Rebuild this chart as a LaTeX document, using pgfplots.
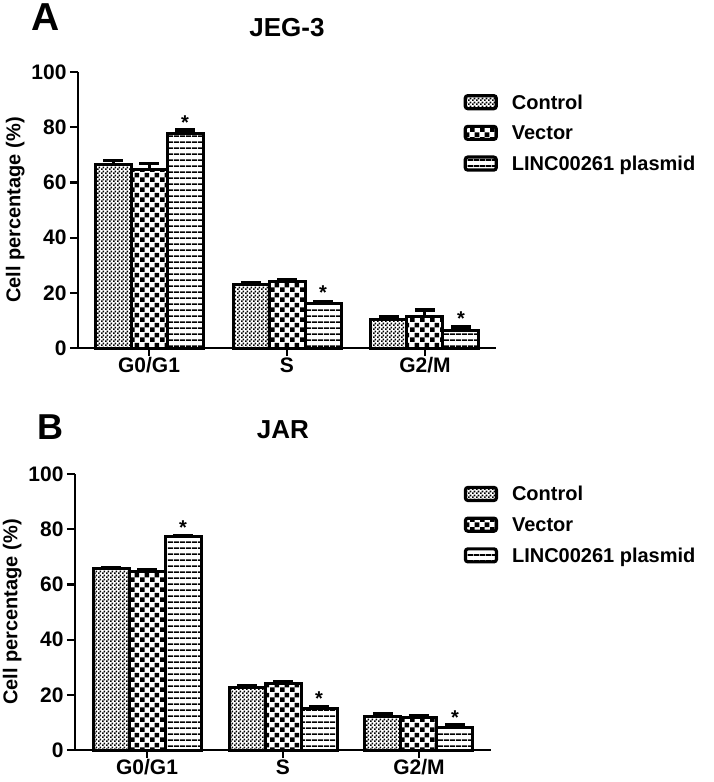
\documentclass[border=0pt]{standalone}
\usepackage{fontspec}
\setmainfont{Liberation Sans}
\usepackage{pgfplots}
\pgfplotsset{compat=1.18}
\usepackage{pgfplotstable}
\usetikzlibrary{patterns.meta}

\tikzdeclarepattern{
  name=finecheck, type=uncolored,
  bottom left={(0pt,0pt)}, top right={(3.6pt,3.6pt)}, tile size={(3.6pt,3.6pt)},
  code={\fill (0pt,0pt) rectangle (1.8pt,1.8pt); \fill (1.8pt,1.8pt) rectangle (3.6pt,3.6pt);}
}
\tikzdeclarepattern{
  name=coarsecheck, type=uncolored,
  bottom left={(0pt,0pt)}, top right={(10pt,10pt)}, tile size={(10pt,10pt)},
  code={\fill (0pt,0pt) rectangle (5pt,5pt); \fill (5pt,5pt) rectangle (10pt,10pt);}
}
\tikzdeclarepattern{
  name=hlines, type=uncolored,
  bottom left={(0pt,0pt)}, top right={(6pt,5.8pt)}, tile size={(6pt,5.8pt)},
  code={\fill (0pt,0pt) rectangle (6pt,1.8pt);}
}

\pgfplotstableread{
x ctrl ctrlerr vec vecerr linc lincerr
0 66.5 1.5 64.8 2.0 77.6 1.4
1 23.0 0.5 24.0 0.6 16.0 0.6
2 10.5 1.0 11.5 2.3 6.5 1.2
}\jegdata

\pgfplotstableread{
x ctrl ctrlerr vec vecerr linc lincerr
0 65.6 0.6 64.7 0.5 77.2 0.4
1 22.8 0.5 24.2 0.5 15.2 0.5
2 12.3 1.0 11.8 0.5 8.3 0.7
}\jardata

\pgfplotsset{
  cellstyle/.style={
    scale only axis,
    height=276pt,
    ymin=0, ymax=100,
    ytick={0,20,...,100},
    xtick={0,1,2},
    xticklabels={G0/G1,S,G2/M},
    axis x line*=bottom, axis y line*=left,
    axis line style={line width=2.2pt, -},
    tick style={line width=2.2pt, black},
    major tick length=8pt,
    tick align=outside,
    ybar=0pt, bar width=36pt,
    /pgf/number format/assume math mode=true,
    tick label style={font=\fontsize{21}{24}\selectfont\bfseries},
    xticklabel style={inner sep=1.5pt},
    ylabel={Cell percentage (\%)},
    ylabel style={font=\fontsize{20}{24}\selectfont\bfseries},
    title style={font=\fontsize{26}{30}\selectfont\bfseries, at={(0.5,1)}, anchor=base, yshift=30pt},
    legend style={draw=none, fill=none, font=\fontsize{20}{24}\selectfont\bfseries,
      anchor=north west, row sep=14.5pt, column sep=14pt,
      nodes={inner sep=0pt, text height=14pt, text depth=0pt}},
    legend cell align=left,
    legend image code/.code={\draw[#1, line width=3.2pt, rounded corners=2.5pt] (0pt,-6.5pt) rectangle (31pt,6.5pt);},
    error bars/y dir=plus, error bars/y explicit,
    error bars/error bar style={line width=3pt, black},
    error bars/error mark options={rotate=90, line width=3.5pt, mark size=10pt, black},
    clip=false,
  },
  ctrlbar/.style={draw=black, line width=3pt, pattern=finecheck, pattern color=black},
  vecbar/.style={draw=black, line width=3pt, pattern=coarsecheck, pattern color=black},
  lincbar/.style={draw=black, line width=3pt, pattern=hlines, pattern color=black,
    nodes near coords={*},
    every node near coord/.append style={font=\fontsize{20}{24}\selectfont\bfseries, anchor=south, inner sep=0pt, yshift=#1}},
}

\begin{document}
\begin{tikzpicture}
\useasboundingbox (0pt,0pt) rectangle (714pt,-782pt);
\node[font=\fontsize{39}{40}\selectfont\bfseries] at (46pt,-17pt) {A};
\node[font=\fontsize{36}{40}\selectfont\bfseries] at (50pt,-427pt) {B};

\begin{axis}[cellstyle, width=418pt, xmin=-0.515, xmax=2.515,
  at={(78pt,-348pt)}, anchor=south west, title={JEG-3},
  legend style={at={(0.915,0.928)}}]
\addplot[ctrlbar] table[x=x, y=ctrl, y error=ctrlerr] {\jegdata};
\addplot[vecbar] table[x=x, y=vec, y error=vecerr] {\jegdata};
\addplot[lincbar=3pt] table[x=x, y=linc, y error=lincerr] {\jegdata};
\legend{Control, Vector, LINC00261 plasmid}
\end{axis}

\begin{axis}[cellstyle, width=416pt, xmin=-0.53, xmax=2.53,
  at={(75pt,-750pt)}, anchor=south west, title={JAR},
  legend style={at={(0.927,0.965)}}]
\addplot[ctrlbar] table[x=x, y=ctrl, y error=ctrlerr] {\jardata};
\addplot[vecbar] table[x=x, y=vec, y error=vecerr] {\jardata};
\addplot[lincbar=1pt] table[x=x, y=linc, y error=lincerr] {\jardata};
\legend{Control, Vector, LINC00261 plasmid}
\end{axis}
\end{tikzpicture}
\end{document}
